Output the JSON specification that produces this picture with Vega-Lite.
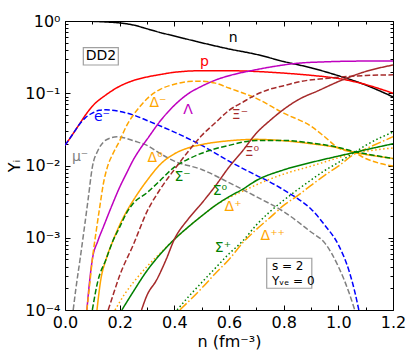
{
"$schema":"https://vega.github.io/schema/vega-lite/v6.json",
"width":328,"height":289,
"autosize":{"type":"none"},
"padding":{"left":65,"top":21,"right":16,"bottom":44},
"background":"white",
"config":{"view":{"stroke":"black","strokeWidth":1},"font":"DejaVu Sans","axis":{"grid":false,"domain":false,"labelFont":"DejaVu Sans","titleFont":"DejaVu Sans","tickColor":"black","labelColor":"black","titleColor":"black","labelFlush":false,"labelOverlap":false}},
"datasets":{
"curves":[
{"s":"n","x":0,"y":1.0},{"s":"n","x":0.05,"y":1.0},{"s":"n","x":0.1,"y":0.99},{"s":"n","x":0.15,"y":0.97},{"s":"n","x":0.2,"y":0.94},{"s":"n","x":0.25,"y":0.88},{"s":"n","x":0.3,"y":0.78},{"s":"n","x":0.35,"y":0.69},{"s":"n","x":0.4,"y":0.62},{"s":"n","x":0.5,"y":0.5},{"s":"n","x":0.6,"y":0.41},{"s":"n","x":0.7,"y":0.345},{"s":"n","x":0.8,"y":0.275},{"s":"n","x":0.9,"y":0.225},{"s":"n","x":1.0,"y":0.175},{"s":"n","x":1.1,"y":0.13},{"s":"n","x":1.2,"y":0.089},
{"s":"p","x":0,"y":0.019},{"s":"p","x":0.025,"y":0.026},{"s":"p","x":0.05,"y":0.036},{"s":"p","x":0.075,"y":0.05},{"s":"p","x":0.1,"y":0.066},{"s":"p","x":0.15,"y":0.095},{"s":"p","x":0.2,"y":0.125},{"s":"p","x":0.25,"y":0.15},{"s":"p","x":0.3,"y":0.168},{"s":"p","x":0.35,"y":0.182},{"s":"p","x":0.4,"y":0.195},{"s":"p","x":0.5,"y":0.205},{"s":"p","x":0.6,"y":0.205},{"s":"p","x":0.7,"y":0.2},{"s":"p","x":0.8,"y":0.19},{"s":"p","x":0.9,"y":0.177},{"s":"p","x":1.0,"y":0.16},{"s":"p","x":1.1,"y":0.132},{"s":"p","x":1.2,"y":0.1},
{"s":"e","x":0,"y":0.019},{"s":"e","x":0.025,"y":0.026},{"s":"e","x":0.05,"y":0.036},{"s":"e","x":0.075,"y":0.046},{"s":"e","x":0.1,"y":0.053},{"s":"e","x":0.125,"y":0.058},{"s":"e","x":0.15,"y":0.059},{"s":"e","x":0.2,"y":0.056},{"s":"e","x":0.25,"y":0.05},{"s":"e","x":0.3,"y":0.042},{"s":"e","x":0.4,"y":0.029},{"s":"e","x":0.5,"y":0.019},{"s":"e","x":0.6,"y":0.0115},{"s":"e","x":0.7,"y":0.0073},{"s":"e","x":0.75,"y":0.0059},{"s":"e","x":0.8,"y":0.0046},{"s":"e","x":0.85,"y":0.0035},{"s":"e","x":0.9,"y":0.0025},{"s":"e","x":0.95,"y":0.0015},{"s":"e","x":1.0,"y":0.0008},{"s":"e","x":1.04,"y":0.00034},{"s":"e","x":1.06,"y":0.00018},{"s":"e","x":1.075,"y":0.0001},
{"s":"mu","x":0.03,"y":0.0001},{"s":"mu","x":0.04,"y":0.0002},{"s":"mu","x":0.055,"y":0.0005},{"s":"mu","x":0.07,"y":0.0013},{"s":"mu","x":0.085,"y":0.0035},{"s":"mu","x":0.1,"y":0.0095},{"s":"mu","x":0.12,"y":0.016},{"s":"mu","x":0.14,"y":0.021},{"s":"mu","x":0.165,"y":0.024},{"s":"mu","x":0.19,"y":0.025},{"s":"mu","x":0.22,"y":0.024},{"s":"mu","x":0.25,"y":0.022},{"s":"mu","x":0.3,"y":0.019},{"s":"mu","x":0.35,"y":0.0145},{"s":"mu","x":0.4,"y":0.0115},{"s":"mu","x":0.5,"y":0.0088},{"s":"mu","x":0.6,"y":0.0058},{"s":"mu","x":0.7,"y":0.0037},{"s":"mu","x":0.8,"y":0.0023},{"s":"mu","x":0.9,"y":0.0012},{"s":"mu","x":0.95,"y":0.00085},{"s":"mu","x":1.0,"y":0.0004},{"s":"mu","x":1.04,"y":0.00017},{"s":"mu","x":1.06,"y":0.0001},
{"s":"Lambda","x":0.08,"y":0.0001},{"s":"Lambda","x":0.09,"y":0.00025},{"s":"Lambda","x":0.1,"y":0.0005},{"s":"Lambda","x":0.12,"y":0.0009},{"s":"Lambda","x":0.14,"y":0.0014},{"s":"Lambda","x":0.17,"y":0.0027},{"s":"Lambda","x":0.2,"y":0.005},{"s":"Lambda","x":0.225,"y":0.0078},{"s":"Lambda","x":0.25,"y":0.012},{"s":"Lambda","x":0.275,"y":0.017},{"s":"Lambda","x":0.3,"y":0.023},{"s":"Lambda","x":0.35,"y":0.042},{"s":"Lambda","x":0.4,"y":0.068},{"s":"Lambda","x":0.45,"y":0.098},{"s":"Lambda","x":0.5,"y":0.125},{"s":"Lambda","x":0.55,"y":0.152},{"s":"Lambda","x":0.6,"y":0.175},{"s":"Lambda","x":0.68,"y":0.205},{"s":"Lambda","x":0.75,"y":0.23},{"s":"Lambda","x":0.85,"y":0.26},{"s":"Lambda","x":0.95,"y":0.272},{"s":"Lambda","x":1.05,"y":0.278},{"s":"Lambda","x":1.2,"y":0.28},
{"s":"DeltaM","x":0.08,"y":0.0001},{"s":"DeltaM","x":0.09,"y":0.00022},{"s":"DeltaM","x":0.1,"y":0.0005},{"s":"DeltaM","x":0.115,"y":0.0013},{"s":"DeltaM","x":0.128,"y":0.0028},{"s":"DeltaM","x":0.14,"y":0.0055},{"s":"DeltaM","x":0.155,"y":0.0095},{"s":"DeltaM","x":0.175,"y":0.0145},{"s":"DeltaM","x":0.2,"y":0.022},{"s":"DeltaM","x":0.226,"y":0.036},{"s":"DeltaM","x":0.25,"y":0.05},{"s":"DeltaM","x":0.275,"y":0.066},{"s":"DeltaM","x":0.3,"y":0.084},{"s":"DeltaM","x":0.35,"y":0.114},{"s":"DeltaM","x":0.4,"y":0.133},{"s":"DeltaM","x":0.45,"y":0.145},{"s":"DeltaM","x":0.5,"y":0.147},{"s":"DeltaM","x":0.55,"y":0.138},{"s":"DeltaM","x":0.6,"y":0.118},{"s":"DeltaM","x":0.7,"y":0.085},{"s":"DeltaM","x":0.8,"y":0.053},{"s":"DeltaM","x":0.9,"y":0.035},{"s":"DeltaM","x":0.95,"y":0.025},{"s":"DeltaM","x":1.0,"y":0.0175},{"s":"DeltaM","x":1.06,"y":0.015},{"s":"DeltaM","x":1.1,"y":0.0125},{"s":"DeltaM","x":1.2,"y":0.0098},
{"s":"Delta0","x":0.117,"y":0.0001},{"s":"Delta0","x":0.13,"y":0.00025},{"s":"Delta0","x":0.15,"y":0.0005},{"s":"Delta0","x":0.175,"y":0.0009},{"s":"Delta0","x":0.2,"y":0.0015},{"s":"Delta0","x":0.225,"y":0.0023},{"s":"Delta0","x":0.25,"y":0.0033},{"s":"Delta0","x":0.3,"y":0.0062},{"s":"Delta0","x":0.35,"y":0.0105},{"s":"Delta0","x":0.4,"y":0.0145},{"s":"Delta0","x":0.45,"y":0.0175},{"s":"Delta0","x":0.5,"y":0.0195},{"s":"Delta0","x":0.6,"y":0.022},{"s":"Delta0","x":0.7,"y":0.023},{"s":"Delta0","x":0.8,"y":0.022},{"s":"Delta0","x":0.9,"y":0.02},{"s":"Delta0","x":1.0,"y":0.0175},{"s":"Delta0","x":1.06,"y":0.015},{"s":"Delta0","x":1.1,"y":0.0142},{"s":"Delta0","x":1.2,"y":0.0125},
{"s":"DeltaP","x":0.183,"y":0.0001},{"s":"DeltaP","x":0.22,"y":0.00017},{"s":"DeltaP","x":0.25,"y":0.00024},{"s":"DeltaP","x":0.3,"y":0.0004},{"s":"DeltaP","x":0.35,"y":0.00062},{"s":"DeltaP","x":0.4,"y":0.00095},{"s":"DeltaP","x":0.45,"y":0.0014},{"s":"DeltaP","x":0.5,"y":0.002},{"s":"DeltaP","x":0.55,"y":0.0028},{"s":"DeltaP","x":0.6,"y":0.0036},{"s":"DeltaP","x":0.65,"y":0.0044},{"s":"DeltaP","x":0.7,"y":0.0054},{"s":"DeltaP","x":0.8,"y":0.0076},{"s":"DeltaP","x":0.9,"y":0.0098},{"s":"DeltaP","x":1.0,"y":0.0128},{"s":"DeltaP","x":1.06,"y":0.015},{"s":"DeltaP","x":1.1,"y":0.0158},{"s":"DeltaP","x":1.2,"y":0.0175},
{"s":"DeltaPP","x":0.42,"y":0.0001},{"s":"DeltaPP","x":0.5,"y":0.0002},{"s":"DeltaPP","x":0.55,"y":0.00032},{"s":"DeltaPP","x":0.6,"y":0.0005},{"s":"DeltaPP","x":0.65,"y":0.00085},{"s":"DeltaPP","x":0.7,"y":0.0013},{"s":"DeltaPP","x":0.75,"y":0.0019},{"s":"DeltaPP","x":0.8,"y":0.0028},{"s":"DeltaPP","x":0.85,"y":0.0038},{"s":"DeltaPP","x":0.9,"y":0.0053},{"s":"DeltaPP","x":0.95,"y":0.0073},{"s":"DeltaPP","x":1.0,"y":0.0098},{"s":"DeltaPP","x":1.06,"y":0.0145},{"s":"DeltaPP","x":1.1,"y":0.017},{"s":"DeltaPP","x":1.2,"y":0.025},
{"s":"SigmaM","x":0.1,"y":0.0001},{"s":"SigmaM","x":0.12,"y":0.00025},{"s":"SigmaM","x":0.15,"y":0.0005},{"s":"SigmaM","x":0.175,"y":0.0009},{"s":"SigmaM","x":0.2,"y":0.0014},{"s":"SigmaM","x":0.225,"y":0.0022},{"s":"SigmaM","x":0.25,"y":0.003},{"s":"SigmaM","x":0.3,"y":0.0042},{"s":"SigmaM","x":0.35,"y":0.0063},{"s":"SigmaM","x":0.4,"y":0.0095},{"s":"SigmaM","x":0.45,"y":0.0122},{"s":"SigmaM","x":0.5,"y":0.0148},{"s":"SigmaM","x":0.6,"y":0.019},{"s":"SigmaM","x":0.7,"y":0.0222},{"s":"SigmaM","x":0.8,"y":0.0222},{"s":"SigmaM","x":0.9,"y":0.0205},{"s":"SigmaM","x":1.0,"y":0.0178},{"s":"SigmaM","x":1.06,"y":0.0155},{"s":"SigmaM","x":1.1,"y":0.0145},{"s":"SigmaM","x":1.2,"y":0.0125},
{"s":"Sigma0","x":0.208,"y":0.0001},{"s":"Sigma0","x":0.25,"y":0.00018},{"s":"Sigma0","x":0.3,"y":0.00035},{"s":"Sigma0","x":0.35,"y":0.0006},{"s":"Sigma0","x":0.4,"y":0.00095},{"s":"Sigma0","x":0.45,"y":0.0014},{"s":"Sigma0","x":0.5,"y":0.002},{"s":"Sigma0","x":0.55,"y":0.0028},{"s":"Sigma0","x":0.6,"y":0.0037},{"s":"Sigma0","x":0.65,"y":0.0047},{"s":"Sigma0","x":0.7,"y":0.0062},{"s":"Sigma0","x":0.8,"y":0.0087},{"s":"Sigma0","x":0.9,"y":0.011},{"s":"Sigma0","x":1.0,"y":0.0135},{"s":"Sigma0","x":1.06,"y":0.0152},{"s":"Sigma0","x":1.1,"y":0.0165},{"s":"Sigma0","x":1.2,"y":0.02},
{"s":"SigmaP","x":0.41,"y":0.0001},{"s":"SigmaP","x":0.45,"y":0.00015},{"s":"SigmaP","x":0.5,"y":0.00024},{"s":"SigmaP","x":0.55,"y":0.00038},{"s":"SigmaP","x":0.6,"y":0.0006},{"s":"SigmaP","x":0.65,"y":0.0009},{"s":"SigmaP","x":0.7,"y":0.0015},{"s":"SigmaP","x":0.75,"y":0.0023},{"s":"SigmaP","x":0.8,"y":0.0033},{"s":"SigmaP","x":0.85,"y":0.0046},{"s":"SigmaP","x":0.9,"y":0.0063},{"s":"SigmaP","x":0.95,"y":0.0085},{"s":"SigmaP","x":1.0,"y":0.011},{"s":"SigmaP","x":1.06,"y":0.0152},{"s":"SigmaP","x":1.1,"y":0.019},{"s":"SigmaP","x":1.2,"y":0.029},
{"s":"XiM","x":0.158,"y":0.0001},{"s":"XiM","x":0.18,"y":0.00018},{"s":"XiM","x":0.2,"y":0.0003},{"s":"XiM","x":0.25,"y":0.0008},{"s":"XiM","x":0.3,"y":0.0023},{"s":"XiM","x":0.35,"y":0.0048},{"s":"XiM","x":0.4,"y":0.0088},{"s":"XiM","x":0.45,"y":0.0155},{"s":"XiM","x":0.5,"y":0.026},{"s":"XiM","x":0.55,"y":0.039},{"s":"XiM","x":0.6,"y":0.058},{"s":"XiM","x":0.65,"y":0.075},{"s":"XiM","x":0.7,"y":0.096},{"s":"XiM","x":0.75,"y":0.114},{"s":"XiM","x":0.8,"y":0.127},{"s":"XiM","x":0.86,"y":0.145},{"s":"XiM","x":0.95,"y":0.16},{"s":"XiM","x":1.03,"y":0.17},{"s":"XiM","x":1.1,"y":0.176},{"s":"XiM","x":1.2,"y":0.18},
{"s":"Xi0","x":0.28,"y":0.0001},{"s":"Xi0","x":0.3,"y":0.00016},{"s":"Xi0","x":0.335,"y":0.00026},{"s":"Xi0","x":0.37,"y":0.0005},{"s":"Xi0","x":0.4,"y":0.00095},{"s":"Xi0","x":0.45,"y":0.0018},{"s":"Xi0","x":0.5,"y":0.003},{"s":"Xi0","x":0.55,"y":0.0052},{"s":"Xi0","x":0.6,"y":0.0095},{"s":"Xi0","x":0.65,"y":0.016},{"s":"Xi0","x":0.7,"y":0.028},{"s":"Xi0","x":0.75,"y":0.042},{"s":"Xi0","x":0.79,"y":0.056},{"s":"Xi0","x":0.85,"y":0.08},{"s":"Xi0","x":0.93,"y":0.11},{"s":"Xi0","x":1.0,"y":0.145},{"s":"Xi0","x":1.1,"y":0.2},{"s":"Xi0","x":1.2,"y":0.246}
],
"labels":[
{"t":"n","s":"n","x":0.615,"y":0.58},{"t":"p","s":"p","x":0.51,"y":0.27},{"t":"Λ","s":"Lambda","x":0.45,"y":0.058},{"t":"Δ⁻","s":"DeltaM","x":0.34,"y":0.073},{"t":"e⁻","s":"e","x":0.135,"y":0.047},{"t":"μ⁻","s":"mu","x":0.055,"y":0.0131},{"t":"Δ⁰","s":"Delta0","x":0.33,"y":0.0127},{"t":"Σ⁻","s":"SigmaM","x":0.43,"y":0.007},{"t":"Ξ⁻","s":"XiM","x":0.64,"y":0.05},{"t":"Ξ⁰","s":"Xi0","x":0.684,"y":0.0154},{"t":"Σ⁰","s":"Sigma0","x":0.567,"y":0.0044},{"t":"Δ⁺","s":"DeltaP","x":0.615,"y":0.0027},{"t":"Δ⁺⁺","s":"DeltaPP","x":0.76,"y":0.00105},{"t":"Σ⁺","s":"SigmaP","x":0.578,"y":0.00072}
],
"boxes":[{"x":0.067,"x2":0.195,"y":0.246,"y2":0.427},{"x":0.738,"x2":0.903,"y":0.0002,"y2":0.00052}],
"dummy":[{"x":0.5,"y":0.1}]
},
"layer":[
{"data":{"name":"curves"},"mark":{"type":"line","strokeWidth":1.5,"clip":true,"interpolate":"monotone"},
"encoding":{
"x":{"field":"x","type":"quantitative","scale":{"domain":[0,1.2],"nice":false,"zero":false},"axis":{"orient":"bottom","values":[0,0.2,0.4,0.6,0.8,1.0,1.2],"format":".1f","ticks":false,"labelFontSize":16,"labelPadding":4,"title":"n (fm⁻³)","titleFontSize":16,"titleFontWeight":"normal","titlePadding":3}},
"y":{"field":"y","type":"quantitative","scale":{"type":"log","domain":[0.0001,1],"nice":false},"axis":{"orient":"left","values":[0.0001,0.001,0.01,0.1,1],"labelExpr":"datum.value>=0.5?'10⁰':datum.value>=0.05?'10⁻¹':datum.value>=0.005?'10⁻²':datum.value>=0.0005?'10⁻³':'10⁻⁴'","ticks":false,"labelFontSize":16,"labelPadding":5,"title":"Yᵢ","titleFontSize":16,"titleFontWeight":"normal","titlePadding":2}},
"color":{"field":"s","type":"nominal","legend":null,"scale":{"domain":["n","p","e","mu","Lambda","DeltaM","Delta0","DeltaP","DeltaPP","SigmaM","Sigma0","SigmaP","XiM","Xi0"],"range":["#000000","#ff0000","#0000ff","#808080","#bf00bf","#ffa500","#ffa500","#ffa500","#ffa500","#008000","#008000","#008000","#a52a2a","#a52a2a"]}},
"strokeDash":{"field":"s","type":"nominal","legend":null,"scale":{"domain":["n","p","e","mu","Lambda","DeltaM","Delta0","DeltaP","DeltaPP","SigmaM","Sigma0","SigmaP","XiM","Xi0"],"range":[[1,0],[1,0],[5.5,2.4],[5.5,2.4],[1,0],[5.5,2.4],[1,0],[1.5,2.5],[9.6,2.4,1.5,2.4],[5.5,2.4],[1,0],[1.5,2.5],[5.5,2.4],[1,0]]}}
}},
{"data":{"name":"labels"},"mark":{"type":"text","fontSize":14,"font":"DejaVu Sans"},
"encoding":{"x":{"field":"x","type":"quantitative","axis":null},"y":{"field":"y","type":"quantitative","scale":{"type":"log"},"axis":null},"text":{"field":"t"},"color":{"field":"s","type":"nominal","legend":null}}},
{"data":{"name":"boxes"},"mark":{"type":"rect","fill":"white","stroke":"#a0a0a0","strokeWidth":1.2},
"encoding":{"x":{"field":"x","type":"quantitative","axis":null},"x2":{"field":"x2"},"y":{"field":"y","type":"quantitative","scale":{"type":"log"},"axis":null},"y2":{"field":"y2"}}},
{"data":{"values":[{"t":"DD2","x":0.1317,"y":0.33}]},"mark":{"type":"text","fontSize":14,"font":"DejaVu Sans","color":"black"},
"encoding":{"x":{"field":"x","type":"quantitative","axis":null},"y":{"field":"y","type":"quantitative","scale":{"type":"log"},"axis":null},"text":{"field":"t"}}},
{"data":{"values":[{"t":"s  = 2","x":0.757,"y":0.00041},{"t":"Yᵥₑ = 0","x":0.757,"y":0.00025}]},"mark":{"type":"text","fontSize":12,"font":"DejaVu Sans","color":"black","align":"left"},
"encoding":{"x":{"field":"x","type":"quantitative","axis":null},"y":{"field":"y","type":"quantitative","scale":{"type":"log"},"axis":null},"text":{"field":"t"}}},
{"data":{"name":"dummy"},"mark":{"type":"point","opacity":0},
"encoding":{"x":{"field":"x","type":"quantitative","axis":{"orient":"top","offset":-289,"values":[0,0.2,0.4,0.6,0.8,1.0,1.2],"labels":false,"tickSize":5,"title":null}},
"y":{"field":"y","type":"quantitative","scale":{"type":"log"},"axis":{"orient":"right","offset":-328,"values":[0.0001,0.001,0.01,0.1,1],"labels":false,"tickSize":5,"title":null}}}},
{"data":{"name":"dummy"},"mark":{"type":"point","opacity":0},
"encoding":{"x":{"field":"x","type":"quantitative","axis":{"orient":"top","offset":-289,"values":[0.1,0.3,0.5,0.7,0.9,1.1],"labels":false,"tickSize":3,"title":null}},
"y":{"field":"y","type":"quantitative","scale":{"type":"log"},"axis":{"orient":"right","offset":-328,"values":[0.0002,0.0003,0.0004,0.0005,0.0006,0.0007,0.0008,0.0009,0.002,0.003,0.004,0.005,0.006,0.007,0.008,0.009,0.02,0.03,0.04,0.05,0.06,0.07,0.08,0.09,0.2,0.3,0.4,0.5,0.6,0.7,0.8,0.9],"labels":false,"tickSize":3,"title":null}}}},
{"data":{"name":"dummy"},"mark":{"type":"point","opacity":0},
"encoding":{"x":{"field":"x","type":"quantitative","axis":{"orient":"bottom","offset":-289,"values":[0,0.2,0.4,0.6,0.8,1.0,1.2],"labels":false,"tickSize":5,"title":null}},
"y":{"field":"y","type":"quantitative","scale":{"type":"log"},"axis":{"orient":"left","offset":-328,"values":[0.0001,0.001,0.01,0.1,1],"labels":false,"tickSize":5,"title":null}}}},
{"data":{"name":"dummy"},"mark":{"type":"point","opacity":0},
"encoding":{"x":{"field":"x","type":"quantitative","axis":{"orient":"bottom","offset":-289,"values":[0.1,0.3,0.5,0.7,0.9,1.1],"labels":false,"tickSize":3,"title":null}},
"y":{"field":"y","type":"quantitative","scale":{"type":"log"},"axis":{"orient":"left","offset":-328,"values":[0.0002,0.0003,0.0004,0.0005,0.0006,0.0007,0.0008,0.0009,0.002,0.003,0.004,0.005,0.006,0.007,0.008,0.009,0.02,0.03,0.04,0.05,0.06,0.07,0.08,0.09,0.2,0.3,0.4,0.5,0.6,0.7,0.8,0.9],"labels":false,"tickSize":3,"title":null}}}}
],
"resolve":{"axis":{"x":"independent","y":"independent"}}
}
